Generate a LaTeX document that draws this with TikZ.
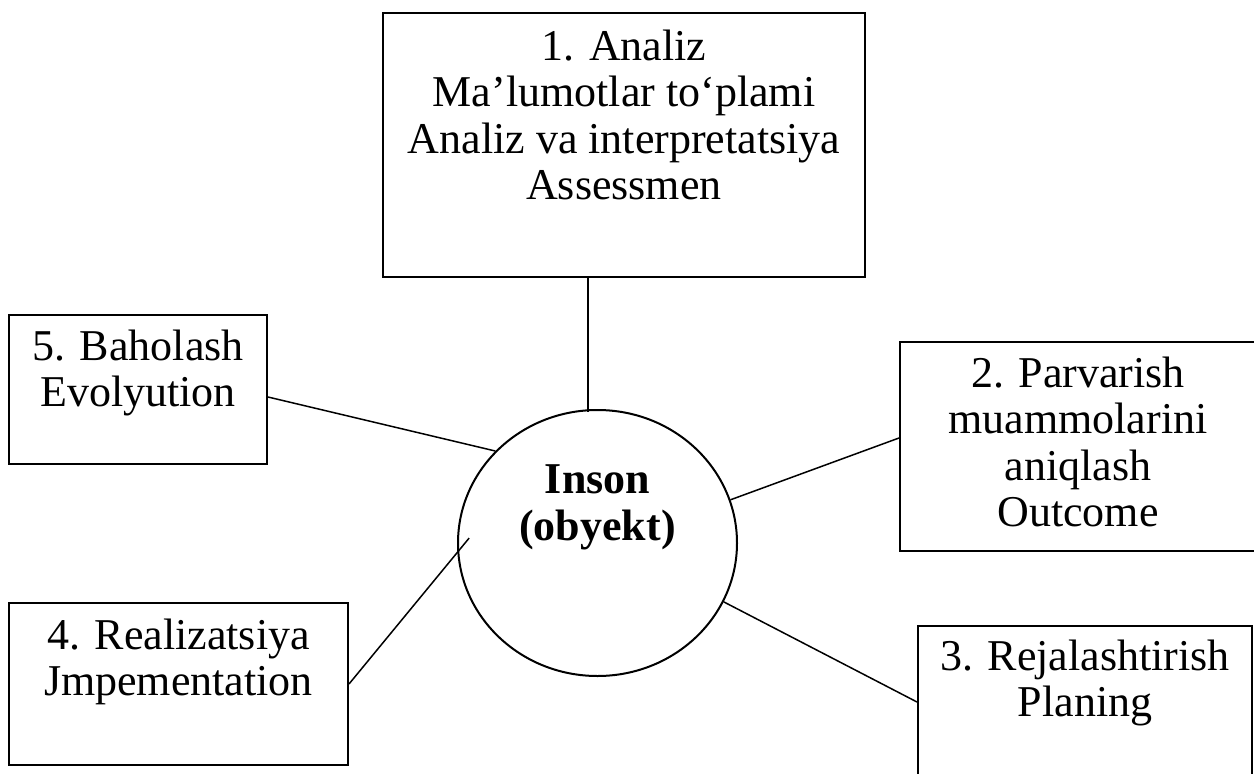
\documentclass[tikz,border=0pt]{standalone}
\usepackage{fontspec}
\setmainfont{Liberation Serif}
\usetikzlibrary{shapes.geometric}

\begin{document}
\begin{tikzpicture}[x=1pt, y=-1pt,
  every node/.style={font=\fontsize{44pt}{46.5pt}\selectfont},
  box/.style={draw, line width=2pt, inner sep=0pt},
  txt/.style={anchor=north, align=center, inner sep=0pt, execute at begin node=\strut},
  link/.style={line width=1.5pt}]
  \useasboundingbox (0,0) rectangle (1254,774);
  \clip (0,0) rectangle (1254,774);
  % boxes and the centre
  \node[box, minimum width=482pt, minimum height=264pt] (analiz) at (624,145) {};
  \node[box, minimum width=258pt, minimum height=149pt] (bahol) at (138,389.5) {};
  \node[box, minimum width=356pt, minimum height=209pt] (parv) at (1078,446.5) {};
  \node[box, minimum width=334pt, minimum height=174pt] (rej) at (1085,713) {};
  \node[box, minimum width=339pt, minimum height=162pt] (real) at (178.5,684) {};
  \node[draw, ellipse, line width=2pt, inner sep=0pt, minimum width=279pt, minimum height=266pt] (inson) at (597.5,543) {};
  % texts
  \node[txt] (analiztxt) at ([yshift=-17.5pt]analiz.north) {1. Analiz\\Ma’lumotlar to‘plami\\Analiz va interpretatsiya\\Assessmen};
  \node[txt] (baholtxt) at ([yshift=-15.5pt]bahol.north) {5. Baholash\\Evolyution};
  \node[txt] (parvtxt) at ([yshift=-15.5pt]parv.north) {2. Parvarish\\muammolarini\\aniqlash\\Outcome};
  \node[txt] (rejtxt) at ([yshift=-14.5pt]rej.north) {3. Rejalashtirish\\Planing};
  \node[txt] (realtxt) at ([yshift=-16.5pt]real.north) {4. Realizatsiya\\Jmpementation};
  \node[txt, font=\fontsize{44pt}{46.5pt}\selectfont\bfseries] (insontxt) at ([yshift=-55.5pt]inson.north) {Inson\\(obyekt)};
  % connectors
  \draw[link] ([xshift=-36pt]analiz.south) -- ([xshift=-9.5pt,yshift=-3pt]inson.north);
  \draw[link] ([yshift=-7.5pt]bahol.east) -- (inson.138);
  \draw[link] ([yshift=8.5pt]parv.west) -- (inson.18);
  \draw[link] ([yshift=11pt]rej.west) -- (inson.-25);
  \draw[link] (real.east) -- ([xshift=12pt]inson.178);
\end{tikzpicture}
\end{document}
